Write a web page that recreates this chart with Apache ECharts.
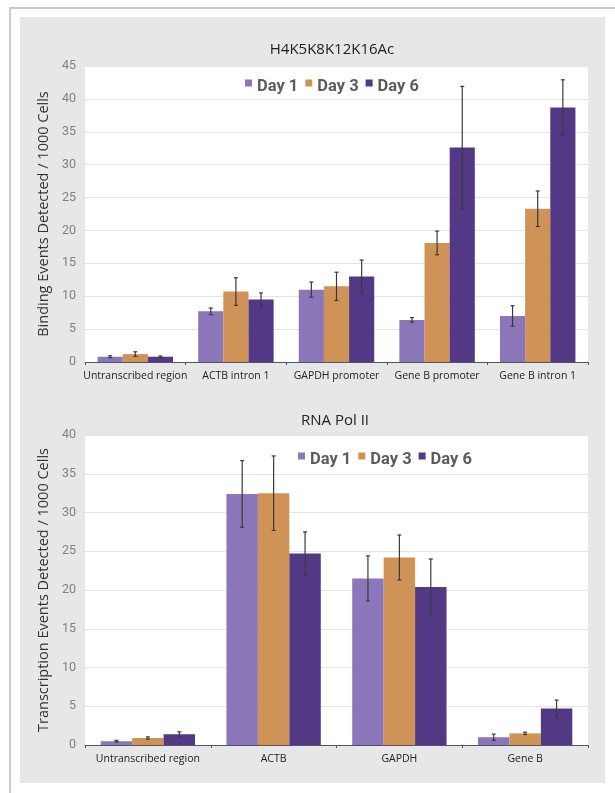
<!DOCTYPE html>
<html>
<head>
<meta charset="utf-8">
<script src="https://cdn.jsdelivr.net/npm/echarts@6/dist/echarts.min.js"></script>
<style>
html,body{margin:0;padding:0;background:#fff;}
#wrap{position:relative;width:615px;height:793px;overflow:hidden;}
#frameTop{position:absolute;left:9px;top:7px;width:606px;height:2px;background:#c9cbce;}
#frameLeft{position:absolute;left:9px;top:7px;width:2px;height:786px;background:#c9cbce;}
#panel{position:absolute;left:20px;top:17px;width:585px;height:766px;background:#e6e7e9;}
#chart{position:absolute;left:0;top:0;width:615px;height:793px;}
</style>
</head>
<body>
<div id="wrap">
<div id="frameTop"></div>
<div id="frameLeft"></div>
<div id="panel"></div>
<div id="chart"></div>
</div>
<script>
// ---- Data ----
const seriesNames = ['Day 1', 'Day 3', 'Day 6'];

const topTitle = 'H4K5K8K12K16Ac';
const topCategories = ['Untranscribed region', 'ACTB intron 1', 'GAPDH promoter', 'Gene B promoter', 'Gene B intron 1'];
const topDay1 = [0.8, 7.7, 11.0, 6.4, 7.0];
const topDay1Err = [0.15, 0.5, 1.15, 0.35, 1.55];
const topDay3 = [1.2, 10.7, 11.5, 18.1, 23.3];
const topDay3Err = [0.35, 2.1, 2.15, 1.8, 2.7];
const topDay6 = [0.8, 9.5, 13.0, 32.6, 38.7];
const topDay6Err = [0.12, 1.0, 2.5, 9.3, 4.2];
const topYTicks = [0, 5, 10, 15, 20, 25, 30, 35, 40, 45];

const botTitle = 'RNA Pol II';
const botCategories = ['Untranscribed region', 'ACTB', 'GAPDH', 'Gene B'];
const botDay1 = [0.5, 32.4, 21.5, 1.0];
const botDay1Err = [0.1, 4.3, 2.9, 0.4];
const botDay3 = [0.9, 32.5, 24.2, 1.5];
const botDay3Err = [0.15, 4.8, 2.9, 0.15];
const botDay6 = [1.4, 24.7, 20.4, 4.7];
const botDay6Err = [0.3, 2.8, 3.6, 1.1];
const botYTicks = [0, 5, 10, 15, 20, 25, 30, 35, 40];

// ---- Styles ----
const colors = ['#8b76b9', '#cf9358', '#533985'];
const sans = '"Open Sans", "Noto Sans", sans-serif';
const narrow = 'Roboto, "Open Sans", sans-serif';

const chart = echarts.init(document.getElementById('chart'), null, {renderer: 'canvas'});

function errSeries(idx, gridIdx, vals, errs) {
  return {
    type: 'custom',
    name: seriesNames[idx] + ' err',
    xAxisIndex: gridIdx, yAxisIndex: gridIdx,
    z: 5,
    silent: true,
    data: vals.map((v, i) => [i, v, errs[i]]),
    encode: {x: 0, y: 1},
    renderItem: function (params, api) {
      const ci = api.value(0), v = api.value(1), e = api.value(2);
      const catW = api.size([1, 0])[0];
      const off = (idx - 1) * catW * 0.25;
      const pHi = api.coord([ci, v + e]);
      const pLo = api.coord([ci, v - e]);
      const x = pHi[0] + off;
      const cap = 2;
      const st = {stroke: '#3a3a3a', lineWidth: 1.2};
      return {
        type: 'group',
        children: [
          {type: 'line', shape: {x1: x, y1: pHi[1], x2: x, y2: pLo[1]}, style: st},
          {type: 'line', shape: {x1: x - cap, y1: pHi[1], x2: x + cap, y2: pHi[1]}, style: st},
          {type: 'line', shape: {x1: x - cap, y1: pLo[1], x2: x + cap, y2: pLo[1]}, style: st}
        ]
      };
    }
  };
}

function barSeries(idx, gridIdx, vals) {
  return {
    type: 'bar',
    name: seriesNames[idx],
    xAxisIndex: gridIdx, yAxisIndex: gridIdx,
    data: vals,
    barGap: '0%',
    barCategoryGap: '25%',
    itemStyle: {color: colors[idx]},
    silent: true
  };
}

function xAx(gridIdx, cats) {
  return {
    type: 'category', gridIndex: gridIdx, data: cats,
    axisLine: {show: true, lineStyle: {color: '#555', width: 1}},
    axisTick: {show: true, length: 3, lineStyle: {color: '#555'}},
    axisLabel: {color: '#222', fontSize: 10.5, fontFamily: sans, margin: 9, interval: 0}
  };
}

function yAx(gridIdx, ticks, name) {
  return {
    type: 'value', gridIndex: gridIdx,
    min: ticks[0], max: ticks[ticks.length - 1], interval: ticks[1] - ticks[0],
    name: name, nameLocation: 'middle', nameGap: 33,
    nameTextStyle: {color: '#333', fontSize: 14.5, fontFamily: sans},
    axisLine: {show: false}, axisTick: {show: false},
    axisLabel: {color: '#808080', fontSize: 12.5, fontFamily: narrow, margin: 9},
    splitLine: {show: true, lineStyle: {color: '#e4e4e4', width: 1}}
  };
}

// square sitting in the upper half of the icon box (top-aligned with the text)
const legendIcon = 'path://M0,0L10,0L10,10L0,10Z M0,20L0.01,20L0.01,20.01Z';
const legendText = {color: '#5c5c5c', fontSize: 16.5, fontWeight: 'bold', fontFamily: narrow};

const option = {
  animation: false,
  backgroundColor: 'transparent',
  title: [
    {text: topTitle, left: 327, top: 37, textAlign: 'center',
     textStyle: {color: '#222', fontSize: 15, fontWeight: 'normal', fontFamily: sans}},
    {text: botTitle, left: 330, top: 408, textAlign: 'center',
     textStyle: {color: '#222', fontSize: 15, fontWeight: 'normal', fontFamily: sans}}
  ],
  legend: [
    {data: seriesNames, left: 240, top: 73, icon: legendIcon, itemWidth: 7, itemHeight: 14, itemGap: 7,
     textStyle: legendText, selectedMode: false},
    {data: seriesNames, left: 293, top: 446, icon: legendIcon, itemWidth: 7, itemHeight: 14, itemGap: 7,
     textStyle: legendText, selectedMode: false}
  ],
  grid: [
    {left: 85, right: 27, top: 66, height: 296, show: true, backgroundColor: '#fff', borderWidth: 0},
    {left: 85, right: 27, top: 435, height: 310, show: true, backgroundColor: '#fff', borderWidth: 0}
  ],
  xAxis: [xAx(0, topCategories), xAx(1, botCategories)],
  yAxis: [
    yAx(0, topYTicks, 'Binding Events Detected / 1000 Cells'),
    yAx(1, botYTicks, 'Transcription Events Detected / 1000 Cells')
  ],
  series: [
    barSeries(0, 0, topDay1), barSeries(1, 0, topDay3), barSeries(2, 0, topDay6),
    barSeries(0, 1, botDay1), barSeries(1, 1, botDay3), barSeries(2, 1, botDay6),
    errSeries(0, 0, topDay1, topDay1Err), errSeries(1, 0, topDay3, topDay3Err), errSeries(2, 0, topDay6, topDay6Err),
    errSeries(0, 1, botDay1, botDay1Err), errSeries(1, 1, botDay3, botDay3Err), errSeries(2, 1, botDay6, botDay6Err)
  ]
};
chart.setOption(option);
</script>
</body>
</html>
